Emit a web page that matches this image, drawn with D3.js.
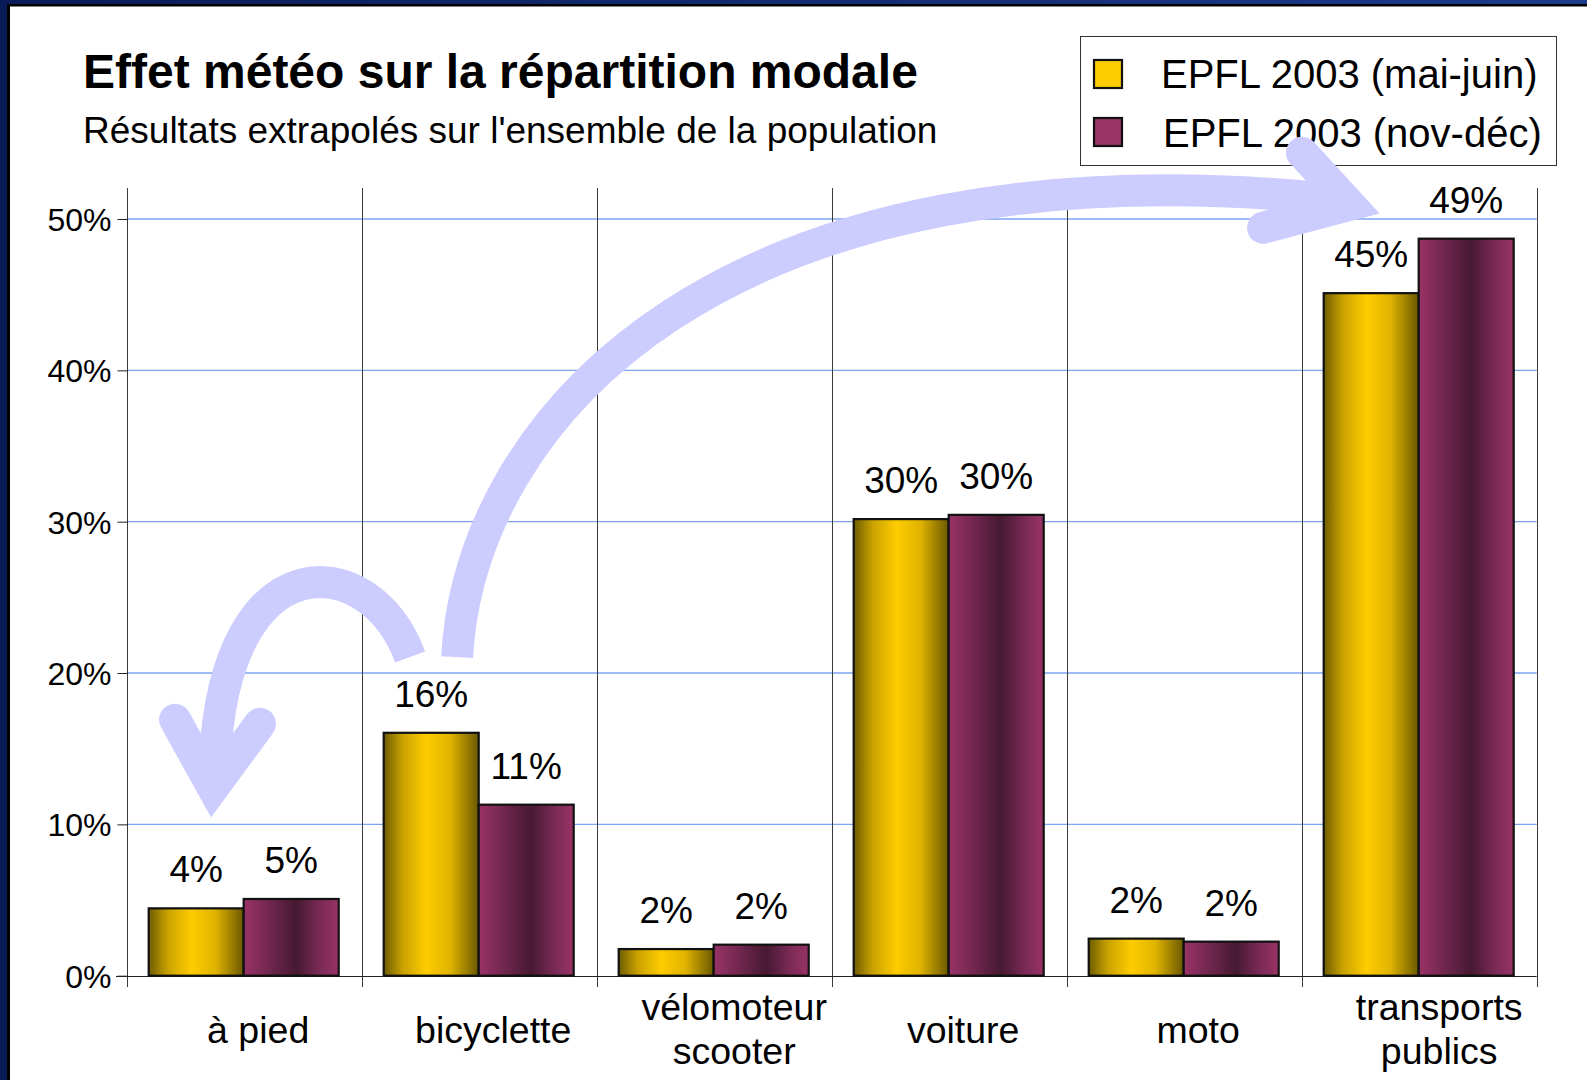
<!DOCTYPE html>
<html>
<head>
<meta charset="utf-8">
<script src="https://cdn.jsdelivr.net/npm/d3@7"></script>
<style>
  body { margin: 0; background: #fff; }
  svg { display: block; font-family: "Liberation Sans", Arial, sans-serif; }
</style>
</head>
<body>
<div id="chart"></div>
<script>
// data
var categories = ["à pied", "bicyclette", "vélomoteur\nscooter", "voiture", "moto", "transports\npublics"];
var seriesNames = ["EPFL 2003 (mai-juin)", "EPFL 2003 (nov-déc)"];
var summerValues = [4.45, 16.05, 1.76, 30.17, 2.45, 45.1];
var winterValues = [5.07, 11.3, 2.05, 30.45, 2.25, 48.7];
var yTicks = [0, 10, 20, 30, 40, 50];

// arrows, in (category units, percent)
var smallArrow = [[1.206, 21.06], [1.035, 28.27], [0.418, 28.87], [0.376, 14.26]];
var smallHead = [[0.206, 16.91], [0.367, 12.41], [0.567, 16.65]];
var bigArrow = [[1.406, 21.05], [1.461, 36.72], [2.525, 55.56], [5.163, 51.27]];
var bigHead = [[5.001, 54.38], [5.205, 50.94], [4.836, 49.42]];

window.onload = function () {
    var W = 1587, H = 1080;
    var plot = {left: 126.7, right: 1536.7, top: 219, bottom: 975.7};

    var svg = d3.select("#chart").append("svg")
        .attr("width", W).attr("height", H);

    var defs = svg.append("defs");
    var frame = defs.append("linearGradient").attr("id", "frame");
    frame.append("stop").attr("offset", "0%").attr("stop-color", "#0a1c58");
    frame.append("stop").attr("offset", "100%").attr("stop-color", "#1d3b8c");

    function barGrad(id, stops) {
        var g = defs.append("linearGradient").attr("id", id)
            .attr("x1", "0%").attr("x2", "100%").attr("y1", "0%").attr("y2", "0%");
        stops.forEach(function (s) {
            g.append("stop").attr("offset", s[0]).attr("stop-color", s[1]);
        });
    }
    barGrad("gold", [["0%", "#6e5c00"], ["20%", "#c9a200"], ["45%", "#ffcc00"], ["70%", "#e0b400"], ["100%", "#6a5800"]]);
    barGrad("plum", [["0%", "#993366"], ["20%", "#7c2a55"], ["55%", "#461932"], ["80%", "#7a2a55"], ["100%", "#993366"]]);

    // page frame
    svg.append("rect").attr("width", W).attr("height", H).attr("fill", "url(#frame)");
    svg.append("rect").attr("x", 7).attr("y", 4).attr("width", W).attr("height", H).attr("fill", "#000");
    svg.append("rect").attr("x", 10).attr("y", 6.5).attr("width", W).attr("height", H).attr("fill", "#fff");

    // scales
    var x = d3.scaleBand().domain(categories).range([plot.left, plot.right]).padding(0);
    var xSub = d3.scaleBand().domain(seriesNames).range([22, 212]).padding(0);
    var y = d3.scaleLinear().domain([0, 50]).range([plot.bottom, plot.top]);
    var step = x.step();
    function cx(c) { return plot.left + c * step; }

    // horizontal grid
    svg.append("g").selectAll("line").data(yTicks.slice(1)).enter().append("line")
        .attr("x1", plot.left).attr("x2", plot.right)
        .attr("y1", function (d) { return y(d); }).attr("y2", function (d) { return y(d); })
        .attr("stroke", "#7da4f0").attr("stroke-width", 1.3);

    // vertical dividers between categories
    var edges = d3.range(categories.length + 1);
    svg.append("g").selectAll("line").data(edges).enter().append("line")
        .attr("x1", function (d) { return Math.round(cx(d)) + 0.5; })
        .attr("x2", function (d) { return Math.round(cx(d)) + 0.5; })
        .attr("y1", 188).attr("y2", 987)
        .attr("stroke", "#3a3a3a").attr("stroke-width", 1);

    // y axis
    var yAxis = d3.axisLeft(y).tickValues(yTicks).tickSize(10)
        .tickFormat(function (d) { return d + "%"; });
    var ya = svg.append("g").attr("transform", "translate(" + (Math.round(plot.left) + 0.5) + ",0)").call(yAxis);
    ya.select(".domain").remove();
    ya.selectAll(".tick line").attr("stroke", "#222");
    ya.selectAll(".tick text").attr("x", -16).attr("dy", "0.36em")
        .style("font-size", "32px").style("font-family", "Liberation Sans, Arial, sans-serif").attr("fill", "#000");

    // baseline
    svg.append("line").attr("x1", 116).attr("x2", plot.right)
        .attr("y1", Math.round(y(0)) + 0.5).attr("y2", Math.round(y(0)) + 0.5)
        .attr("stroke", "#222").attr("stroke-width", 1);

    // bars
    var rows = categories.map(function (c, i) {
        return [
            {cat: c, s: seriesNames[0], v: summerValues[i], fill: "url(#gold)"},
            {cat: c, s: seriesNames[1], v: winterValues[i], fill: "url(#plum)"}
        ];
    });
    var flat = d3.merge(rows);

    svg.append("g").selectAll("rect").data(flat).enter().append("rect")
        .attr("x", function (d) { return x(d.cat) + xSub(d.s); })
        .attr("y", function (d) { return y(d.v); })
        .attr("width", xSub.bandwidth())
        .attr("height", function (d) { return y(0) - y(d.v); })
        .attr("fill", function (d) { return d.fill; })
        .attr("stroke", "#111").attr("stroke-width", 2.2);

    // value labels
    svg.append("g").selectAll("text").data(flat).enter().append("text")
        .attr("x", function (d) { return x(d.cat) + xSub(d.s) + xSub.bandwidth() / 2; })
        .attr("y", function (d) { return y(d.v) - 26; })
        .attr("text-anchor", "middle")
        .style("font-size", "37px")
        .text(function (d) { return Math.round(d.v) + "%"; });

    // category labels
    var cl = svg.append("g").selectAll("text").data(categories).enter().append("text")
        .attr("x", function (d, i) { return x(d) + step / 2 + (d.indexOf("\n") > 0 ? 20 : 14); })
        .attr("text-anchor", "middle")
        .style("font-size", "37.5px");
    cl.each(function (d) {
        var lines = d.split("\n");
        var t = d3.select(this);
        var y0 = lines.length > 1 ? 1020 : 1043;
        lines.forEach(function (ln, k) {
            t.append("tspan").attr("x", t.attr("x")).attr("y", y0 + k * 44).text(ln);
        });
    });

    // title
    svg.append("text").attr("x", 83).attr("y", 88)
        .style("font-size", "48px").style("font-weight", "bold")
        .text("Effet météo sur la répartition modale");
    svg.append("text").attr("x", 83).attr("y", 143)
        .style("font-size", "37px")
        .text("Résultats extrapolés sur l'ensemble de la population");

    // legend
    var lg = svg.append("g");
    lg.append("rect").attr("x", 1080.5).attr("y", 36.5).attr("width", 476).attr("height", 129)
        .attr("fill", "#fff").attr("stroke", "#333").attr("stroke-width", 1);
    var swatch = ["#ffcc00", "#993366"];
    seriesNames.forEach(function (s, i) {
        lg.append("rect").attr("x", 1094).attr("y", 60 + i * 58).attr("width", 28).attr("height", 28)
            .attr("fill", swatch[i]).attr("stroke", "#111").attr("stroke-width", 2.2);
        lg.append("text").attr("x", 1161 + i * 2).attr("y", 88 + i * 59)
            .style("font-size", "40px").text(s);
    });

    // the two curved arrows
    var ar = svg.append("g").attr("fill", "none").attr("stroke", "#ccccff").attr("stroke-width", 32);
    function pt(p) { return [cx(p[0]), y(p[1])]; }
    function curve(pts) {
        var q = pts.map(pt);
        return "M" + q[0] + "C" + q[1] + " " + q[2] + " " + q[3];
    }
    function head(pts) {
        return "M" + pts.map(pt).join("L");
    }
    ar.append("path").attr("d", curve(smallArrow)).attr("stroke-linecap", "butt");
    ar.append("path").attr("d", head(smallHead)).attr("stroke-linecap", "round").attr("stroke-linejoin", "miter").attr("stroke-miterlimit", 10);
    ar.append("path").attr("d", curve(bigArrow)).attr("stroke-linecap", "butt");
    ar.append("path").attr("d", head(bigHead)).attr("stroke-linecap", "round").attr("stroke-linejoin", "miter").attr("stroke-miterlimit", 10);
};
</script>
</body>
</html>
